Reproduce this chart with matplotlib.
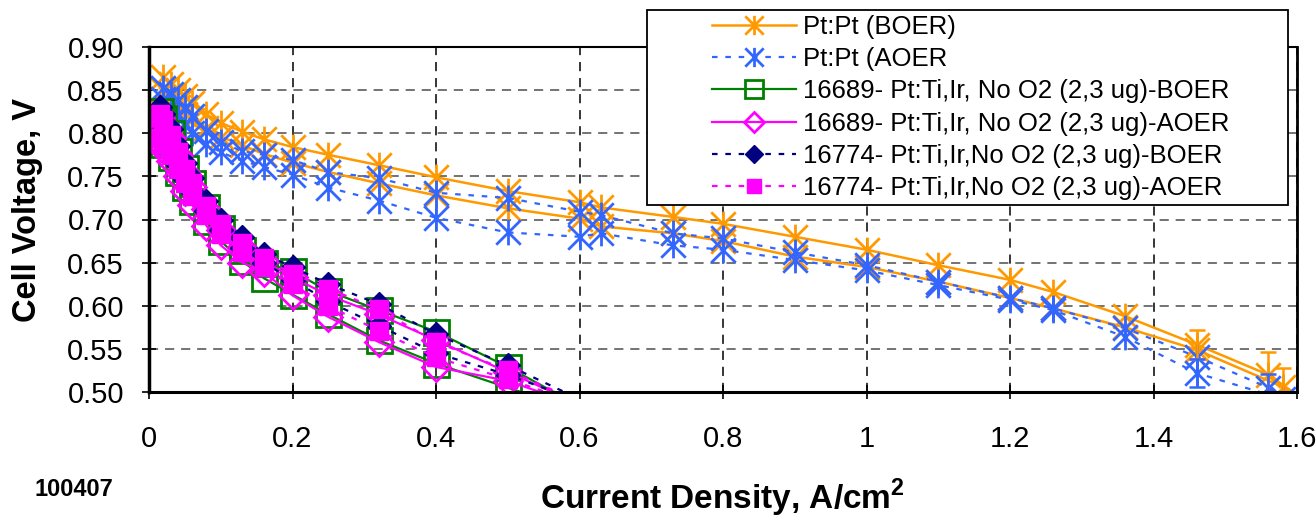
import matplotlib
matplotlib.use('Agg')
import matplotlib.pyplot as plt
from matplotlib.path import Path
from matplotlib.patches import Rectangle

plt.rcParams['font.family'] = ['Liberation Sans', 'DejaVu Sans']
plt.rcParams['mathtext.fontset'] = 'custom'
plt.rcParams['mathtext.rm'] = 'Liberation Sans'
plt.rcParams['mathtext.bf'] = 'Liberation Sans:bold'

# ---------------- data ----------------
# Pt:Pt reference (high current range), loop: out branch then back branch
pt_x_out = [0.02, 0.03, 0.04, 0.05, 0.06, 0.08, 0.10, 0.13, 0.16, 0.20, 0.25, 0.32, 0.40, 0.50,
            0.60, 0.63, 0.73, 0.80, 0.90, 1.00, 1.10, 1.20, 1.26, 1.36, 1.46, 1.56, 1.62]
pt_x_back = [1.58, 1.46, 1.36, 1.26, 1.20, 1.10, 1.00, 0.90, 0.80, 0.73, 0.63, 0.60, 0.50, 0.40,
             0.32, 0.25, 0.20, 0.16, 0.13, 0.10, 0.08, 0.06, 0.05, 0.04, 0.03, 0.02]
boer_pt_out = [0.865, 0.857, 0.850, 0.843, 0.835, 0.822, 0.812, 0.802, 0.793, 0.784, 0.775, 0.763, 0.749, 0.733,
               0.720, 0.714, 0.703, 0.695, 0.680, 0.665, 0.647, 0.630, 0.616, 0.588, 0.555, 0.520, 0.485]
boer_pt_back = [0.506, 0.549, 0.575, 0.597, 0.609, 0.628, 0.645, 0.657, 0.675, 0.684, 0.692, 0.701, 0.713, 0.728,
                0.742, 0.755, 0.766, 0.776, 0.786, 0.796, 0.806, 0.815, 0.822, 0.830, 0.840, 0.850]
aoer_pt_out = [0.852, 0.845, 0.838, 0.830, 0.820, 0.803, 0.790, 0.779, 0.775, 0.769, 0.755, 0.748, 0.731, 0.725,
               0.709, 0.705, 0.684, 0.678, 0.662, 0.647, 0.628, 0.609, 0.597, 0.574, 0.541, 0.505, 0.470]
aoer_pt_back = [0.492, 0.522, 0.564, 0.595, 0.607, 0.624, 0.641, 0.653, 0.665, 0.670, 0.684, 0.680, 0.685, 0.702,
                0.722, 0.737, 0.752, 0.761, 0.768, 0.778, 0.788, 0.800, 0.810, 0.820, 0.830, 0.840]

# error bars (Pt:Pt)
boer_err_x = [1.46, 1.56, 1.58]
boer_err_y = [0.555, 0.520, 0.506]
boer_err = [0.017, 0.026, 0.022]
aoer_err_x = [1.46, 1.56]
aoer_err_y = [0.522, 0.505]
aoer_err = [0.016, 0.016]

# Pt:Ti,Ir samples (low current range)
low_x = [0.015, 0.02, 0.03, 0.04, 0.05, 0.06, 0.08, 0.10, 0.13, 0.16, 0.20, 0.25, 0.32, 0.40, 0.50]
tail_x = [0.63]
s16689_boer_up = [0.826, 0.818, 0.800, 0.780, 0.760, 0.742, 0.715, 0.690, 0.665, 0.650, 0.640, 0.617, 0.595, 0.570, 0.529]
s16689_boer_dn = [0.794, 0.787, 0.773, 0.755, 0.738, 0.722, 0.698, 0.675, 0.652, 0.632, 0.613, 0.590, 0.560, 0.533, 0.505]
s16689_boer_tail = [0.470]
s16689_aoer_up = [0.818, 0.811, 0.795, 0.775, 0.755, 0.738, 0.712, 0.688, 0.668, 0.652, 0.633, 0.612, 0.590, 0.560, 0.523]
s16689_aoer_dn = [0.789, 0.782, 0.768, 0.750, 0.733, 0.717, 0.693, 0.670, 0.650, 0.639, 0.612, 0.587, 0.558, 0.529, 0.513]
s16689_aoer_tail = [0.475]
s16774_boer_up = [0.830, 0.822, 0.805, 0.785, 0.765, 0.748, 0.722, 0.700, 0.680, 0.660, 0.645, 0.625, 0.602, 0.567, 0.531]
s16774_boer_dn = [0.800, 0.793, 0.780, 0.763, 0.747, 0.732, 0.710, 0.688, 0.667, 0.650, 0.630, 0.605, 0.577, 0.545, 0.520]
s16774_boer_tail = [0.480]
s16774_aoer_up = [0.822, 0.815, 0.798, 0.778, 0.758, 0.742, 0.716, 0.695, 0.673, 0.655, 0.637, 0.620, 0.596, 0.558, 0.525]
s16774_aoer_dn = [0.795, 0.788, 0.775, 0.758, 0.742, 0.727, 0.705, 0.683, 0.662, 0.645, 0.625, 0.600, 0.571, 0.540, 0.515]
s16774_aoer_tail = [0.478]

labels = ['Pt:Pt (BOER)', 'Pt:Pt (AOER',
          '16689- Pt:Ti,Ir, No O2 (2,3 ug)-BOER', '16689- Pt:Ti,Ir, No O2 (2,3 ug)-AOER',
          '16774- Pt:Ti,Ir,No O2 (2,3 ug)-BOER', '16774- Pt:Ti,Ir,No O2 (2,3 ug)-AOER']
xticks = [0, 0.2, 0.4, 0.6, 0.8, 1.0, 1.2, 1.4, 1.6]
xticklabels = ['0', '0.2', '0.4', '0.6', '0.8', '1', '1.2', '1.4', '1.6']
yticks = [0.50, 0.55, 0.60, 0.65, 0.70, 0.75, 0.80, 0.85, 0.90]
yticklabels = ['0.50', '0.55', '0.60', '0.65', '0.70', '0.75', '0.80', '0.85', '0.90']

# ---------------- figure ----------------
W, H = 1316, 519
fig = plt.figure(figsize=(W / 100, H / 100), dpi=100)
ax = fig.add_axes([149 / W, 1 - 392 / H, (1297 - 149) / W, (392 - 47) / H])

star = Path([(-1, -1), (1, 1), (-1, 1), (1, -1), (0, -1.05), (0, 1.05)],
            [Path.MOVETO, Path.LINETO, Path.MOVETO, Path.LINETO, Path.MOVETO, Path.LINETO])

ORANGE = '#FF9900'
BLUE = '#3366FF'
GREEN = '#008000'
MAG = '#FF00FF'
NAVY = '#000080'
dotted = (0, (2.5, 3.5))

def loop(xo, yo, xb, yb):
    return list(xo) + list(xb), list(yo) + list(yb)

x, y = loop(pt_x_out, boer_pt_out, pt_x_back, boer_pt_back)
ax.plot(x, y, color=ORANGE, lw=1.8, marker=star, ms=18.5, mfc='none', mec=ORANGE, mew=2.0, label=labels[0])
x, y = loop(pt_x_out, aoer_pt_out, pt_x_back, aoer_pt_back)
ax.plot(x, y, color=BLUE, lw=1.6, ls=dotted, marker=star, ms=18.5, mfc='none', mec=BLUE, mew=2.0, label=labels[1])
ax.errorbar(boer_err_x, boer_err_y, yerr=boer_err, fmt='none', ecolor=ORANGE, elinewidth=1.8, capsize=6, capthick=1.8)
ax.errorbar(aoer_err_x, aoer_err_y, yerr=aoer_err, fmt='none', ecolor=BLUE, elinewidth=1.8, capsize=6, capthick=1.8)

x, y = loop(low_x + tail_x, s16689_boer_up + s16689_boer_tail, low_x[::-1], s16689_boer_dn[::-1])
ax.plot(x, y, color=GREEN, lw=1.6, marker='s', ms=18, mfc='none', mec=GREEN, mew=2.0, label=labels[2])
x, y = loop(low_x + tail_x, s16689_aoer_up + s16689_aoer_tail, low_x[::-1], s16689_aoer_dn[::-1])
ax.plot(x, y, color=MAG, lw=1.6, marker='D', ms=14, mfc='none', mec=MAG, mew=2.0, label=labels[3])
x, y = loop(low_x + tail_x, s16774_boer_up + s16774_boer_tail, low_x[::-1], s16774_boer_dn[::-1])
ax.plot(x, y, color=NAVY, lw=1.6, ls=dotted, marker='D', ms=12, mfc=NAVY, mec=NAVY, mew=1.0, label=labels[4])
x, y = loop(low_x + tail_x, s16774_aoer_up + s16774_aoer_tail, low_x[::-1], s16774_aoer_dn[::-1])
ax.plot(x, y, color=MAG, lw=1.6, ls=dotted, marker='s', ms=13.5, mfc=MAG, mec=MAG, mew=1.0, label=labels[5])

ax.set_xlim(0, 1.6)
ax.set_ylim(0.5, 0.9)
ax.set_xticks(xticks)
ax.set_xticklabels(xticklabels)
ax.set_yticks(yticks)
ax.set_yticklabels(yticklabels)
ax.xaxis.grid(True, color='black', ls=(0, (6, 4.5)), lw=1.1)
ax.yaxis.grid(True, color='#4d4d4d', ls=(0, (6, 4.5)), lw=1.1)
ax.set_axisbelow(True)
ax.tick_params(axis='both', direction='inout', length=10, width=1.2, labelsize=21, colors='black')
ax.tick_params(axis='x', pad=19)
ax.tick_params(axis='y', pad=13)
for side, lw in [('left', 2.5), ('bottom', 2.2), ('top', 1.5), ('right', 2.0)]:
    ax.spines[side].set_linewidth(lw)
    ax.spines[side].set_color('black')

fig.text(28 / W, 1 - 210 / H, 'Cell Voltage, V', rotation=90, ha='center', va='center',
         fontsize=23.5, fontweight='bold')
fig.text(722 / W, 1 - 509 / H, r'Current Density, A/cm$^{\mathbf{2}}$', ha='center', va='baseline',
         fontsize=24, fontweight='bold')
fig.text(35 / W, 1 - 496 / H, '100407', ha='left', va='baseline', fontsize=17, fontweight='bold')

# legend box
fig.add_artist(Rectangle((647 / W, 1 - 205 / H), (1288 - 647) / W, (205 - 10) / H, transform=fig.transFigure,
                         facecolor='white', edgecolor='black', lw=1.3, zorder=4))
handles, labs = ax.get_legend_handles_labels()
leg = fig.legend(handles, labs, loc='upper left', bbox_to_anchor=(712 / W, 1 - 15 / H), frameon=False,
                 fontsize=18.5, borderpad=0, borderaxespad=0, handlelength=3.27, handletextpad=0.27,
                 labelspacing=0.32, markerscale=0.75, numpoints=1)
leg.set_zorder(5)

fig.savefig('out.png', dpi=100)
